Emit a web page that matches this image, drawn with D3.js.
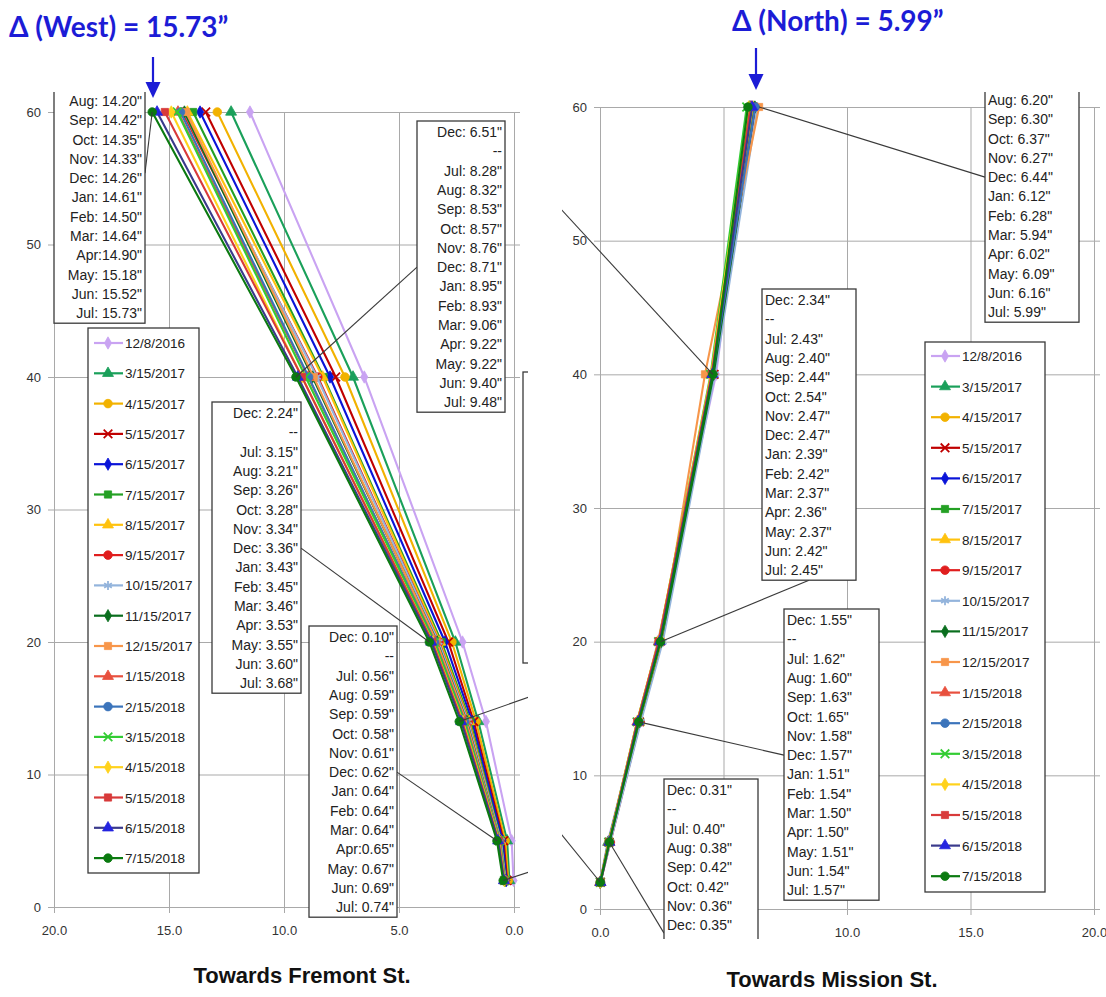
<!DOCTYPE html>
<html><head><meta charset="utf-8">
<script src="https://cdn.jsdelivr.net/npm/d3@7"></script>
<style>body{margin:0;background:#fff}svg{display:block}</style>
</head><body>
<svg id="c" width="1106" height="997"></svg>
<script>
// ---------------- DATA ----------------
const seriesNames = ["12/8/2016","3/15/2017","4/15/2017","5/15/2017","6/15/2017","7/15/2017","8/15/2017","9/15/2017","10/15/2017","11/15/2017","12/15/2017","1/15/2018","2/15/2018","3/15/2018","4/15/2018","5/15/2018","6/15/2018","7/15/2018"];
const seriesMonths = ["Dec","Mar","Apr","May","Jun","Jul","Aug","Sep","Oct","Nov","Dec","Jan","Feb","Mar","Apr","May","Jun","Jul"];
const depths = [60, 40, 20, 14, 5, 2];

// Displacement towards Fremont St. (West), inches, per series, at each depth
const west60 = [11.48,12.30,12.90,13.40,13.65,13.95,14.20,14.42,14.35,14.33,14.26,14.61,14.50,14.64,14.90,15.18,15.52,15.73];
const west40 = [6.51,7.00,7.35,7.75,8.00,8.28,8.32,8.53,8.57,8.76,8.71,8.95,8.93,9.06,9.22,9.22,9.40,9.48];
const west20 = [2.24,2.55,2.70,2.85,3.00,3.15,3.21,3.26,3.28,3.34,3.36,3.43,3.45,3.46,3.53,3.55,3.60,3.68];
const west14 = [1.22,1.55,1.65,1.75,1.82,1.90,1.95,1.98,2.00,2.05,2.07,2.12,2.14,2.16,2.22,2.25,2.30,2.38];
const west5  = [0.10,0.30,0.38,0.45,0.50,0.56,0.59,0.59,0.58,0.61,0.62,0.64,0.64,0.64,0.65,0.67,0.69,0.74];
const west2  = [0.02,0.20,0.25,0.30,0.33,0.36,0.38,0.38,0.37,0.39,0.40,0.41,0.41,0.41,0.42,0.43,0.44,0.47];

// Displacement towards Mission St. (North), inches
const north60 = [6.10,6.05,6.15,6.20,6.10,6.15,6.20,6.30,6.37,6.27,6.44,6.12,6.28,5.94,6.02,6.09,6.16,5.99];
const north40 = [4.70,4.55,4.60,4.62,4.55,4.58,4.55,4.60,4.65,4.60,4.25,4.52,4.55,4.48,4.50,4.52,4.55,4.57];
const north20 = [2.34,2.38,2.40,2.42,2.41,2.43,2.40,2.44,2.54,2.47,2.47,2.39,2.42,2.37,2.36,2.37,2.42,2.45];
const north14 = [1.55,1.58,1.60,1.60,1.61,1.62,1.60,1.63,1.65,1.58,1.57,1.51,1.54,1.50,1.50,1.51,1.54,1.57];
const north5  = [0.31,0.33,0.35,0.37,0.38,0.40,0.38,0.42,0.42,0.36,0.35,0.36,0.37,0.35,0.36,0.37,0.38,0.38];
const north2  = [0.00,0.01,0.01,0.02,0.01,0.02,0.01,0.02,0.02,0.01,0.01,0.01,0.02,0.01,0.01,0.02,0.02,0.01];

const yTicks = [0,10,20,30,40,50,60];
const xGrid = [0,5,10,15,20];
const xLabelsWest = [0,5,10,15,20];
const xLabelsNorth = [0,10,15,20];   // "5.0" is covered by an annotation box in the original
const titles = ["\u0394 (West) = 15.73\u201d", "\u0394 (North) = 5.99\u201d"];
const axisTitles = ["Towards Fremont St.", "Towards Mission St."];

// ---------------- STYLE ----------------
const lineColors   = ["#c9a3f2","#1aa05a","#f2b200","#c00000","#0a14d8","#24a024","#ffc20e","#e01e1e","#93b4dc","#0a6e1e","#f7964a","#e8503e","#3b74bb","#33cc33","#ffd21c","#d83a3a","#3a3a8c","#0b7a10"];
const markerColors = ["#c9a3f2","#1aa05a","#f2b200","#c00000","#0a14d8","#24a024","#ffc20e","#e01e1e","#93b4dc","#0a6e1e","#f7964a","#e8503e","#3b74bb","#33cc33","#ffd21c","#d83a3a","#2424e0","#0b7a10"];
const markerShapes = ["diamond","triangle","circle","times","diamond","square","triangle","circle","asterisk","diamond","square","triangle","circle","times","diamond","square","triangle","circle"];
const symMap = {diamond:[d3.symbolDiamond,44,true],triangle:[d3.symbolTriangle,52,true],circle:[d3.symbolCircle,58,true],square:[d3.symbolSquare,52,true],times:[d3.symbolTimes,50,false],asterisk:[d3.symbolAsterisk,56,false]};

const svg = d3.select("#c");
const FONT = "'Liberation Sans', Arial, sans-serif";

const charts = [
  { x: d3.scaleLinear().domain([20,0]).range([54,514]),
    y: d3.scaleLinear().domain([0,60]).range([907,112]),
    vals: [west60,west40,west20,west14,west5,west2], xLabels: xLabelsWest,
    clip: [18,92,510,853], gridL: 48, gridR: 520,
    legend: {x:88, y:328, w:111, h:545, row0:343, step:30.3},
    title: {x:9, y:37}, arrowX: 153, arrowY: [57,98],
    axTitle: {x:302, y:983} },
  { x: d3.scaleLinear().domain([0,20]).range([600,1094]),
    y: d3.scaleLinear().domain([0,60]).range([909,107]),
    vals: [north60,north40,north20,north14,north5,north2], xLabels: xLabelsNorth,
    clip: [562,92,540,847], gridL: 594, gridR: 1100,
    legend: {x:925, y:342, w:120, h:550, row0:356, step:30.6},
    title: {x:732, y:31}, arrowX: 756, arrowY: [48,90],
    axTitle: {x:832, y:987} }
];

function drawMarker(g, i, cx, cy) {
  const [type, size, filled] = symMap[markerShapes[i]];
  g.append("path")
    .attr("d", d3.symbol().type(type).size(size)())
    .attr("transform", `translate(${cx},${cy})`)
    .attr("fill", filled ? markerColors[i] : "none")
    .attr("stroke", markerColors[i])
    .attr("stroke-width", filled ? 0.8 : 1.8);
}

charts.forEach((c, ci) => {
  const g = svg.append("g");
  const clipId = "clip" + ci;
  svg.append("clipPath").attr("id", clipId).append("rect")
    .attr("x", c.clip[0]).attr("y", c.clip[1]).attr("width", c.clip[2]).attr("height", c.clip[3]);

  // gridlines + axes
  const yAxis = d3.axisLeft(c.y).tickValues(yTicks).tickFormat(d3.format("d"))
    .tickSizeInner(-(c.gridR - c.gridL)).tickSizeOuter(0).tickPadding(7);
  const ya = g.append("g").attr("transform", `translate(${c.gridL},0)`).call(yAxis);
  const yBottom = c.y(0) + 6;
  const xAxis = d3.axisBottom(c.x).tickValues(xGrid)
    .tickFormat(v => c.xLabels.includes(v) ? d3.format(".1f")(v) : "")
    .tickSizeInner(-(yBottom - c.y(60))).tickSizeOuter(0).tickPadding(13);
  const xa = g.append("g").attr("transform", `translate(0,${yBottom})`).call(xAxis);
  xa.selectAll(".tick text").filter(function(){ return this.textContent === ""; }).remove();
  [ya, xa].forEach(a => {
    a.select(".domain").remove();
    a.selectAll(".tick line").attr("stroke", "#a9a9a9").attr("stroke-width", 1);
    a.selectAll(".tick text").attr("fill", "#333").style("font-family", FONT).style("font-size", "13px");
  });

  const plot = g.append("g").attr("clip-path", `url(#${clipId})`);

  // series
  const line = d3.line().x(d => c.x(d.v)).y(d => c.y(d.d));
  seriesNames.forEach((name, i) => {
    const pts = depths.map((d, k) => ({d, v: c.vals[k][i]}));
    plot.append("path").datum(pts).attr("d", line)
      .attr("fill", "none").attr("stroke", lineColors[i]).attr("stroke-width", 2.1);
    pts.forEach(p => drawMarker(plot, i, c.x(p.v), c.y(p.d)));
  });
  c.plot = plot; c.g = g;
});

// ---------------- ANNOTATIONS ----------------
const rowStep = 19.3;
const boxRows = [0, "--", 5,6,7,8,9,10,11,12,13,14,15,16,17];
const boxes = [
  {chart:0, depth:0, x:54,  w:91, y0:43,  align:"end",   tight:[14], lead:{side:"right", row:7, dy:-5}, target:17},
  {chart:0, depth:1, x:417, w:88, y0:132, align:"end",   tight:[],   lead:{side:"left",  row:7, dy:0},  target:17},
  {chart:0, depth:2, x:212, w:89, y0:413, align:"end",   tight:[],   lead:{side:"right", row:7, dy:0},  target:17},
  {chart:0, depth:4, x:309, w:88, y0:637, align:"end",   tight:[14], lead:{side:"right", row:7, dy:0},  target:17},
  {chart:1, depth:0, x:985, w:94, y0:42,  align:"start", tight:[],   lead:{side:"left",  row:7, dy:0},  target:10},
  {chart:1, depth:2, x:762, w:94, y0:300, align:"start", tight:[],   lead:{side:"bottom"},              target:17},
  {chart:1, depth:3, x:784, w:95, y0:620, align:"start", tight:[],   lead:{side:"left",  row:7, dy:0},  target:17},
  {chart:1, depth:4, x:664, w:94, y0:790, align:"start", tight:[],   lead:{side:"left",  row:7, dy:8},  target:17}
];

boxes.forEach(b => {
  const c = charts[b.chart];
  const top = b.y0 - 11, bottom = b.y0 + (boxRows.length - 1) * rowStep + 10;
  const tx = c.x(c.vals[b.depth][b.target]), ty = c.y(depths[b.depth]);
  let lx, ly;
  if (b.lead.side === "bottom") { lx = b.x + b.w / 2; ly = bottom; }
  else { lx = b.lead.side === "left" ? b.x : b.x + b.w; ly = b.y0 + b.lead.row * rowStep + b.lead.dy; }
  c.plot.append("line").attr("x1", lx).attr("y1", ly).attr("x2", tx).attr("y2", ty)
    .attr("stroke", "#3a3a3a").attr("stroke-width", 1.1);
  c.plot.append("rect").attr("x", b.x).attr("y", top).attr("width", b.w).attr("height", bottom - top)
    .attr("fill", "#fff").attr("stroke", "#3a3a3a").attr("stroke-width", 1.3);
  const textX = b.align === "end" ? b.x + b.w - 3 : b.x + 3;
  const clipTop = c.clip[1], clipBottom = c.clip[1] + c.clip[3];
  boxRows.forEach((r, k) => {
    const cy = b.y0 + k * rowStep;
    if (cy - 6 < clipTop || cy + 6 > clipBottom) return;  // rows hidden by the plot-area edge
    const label = r === "--" ? "--" :
      seriesMonths[r] + ":" + (b.tight.includes(r) ? "" : " ") + c.vals[b.depth][r].toFixed(2) + '"';
    c.plot.append("text").attr("x", textX).attr("y", cy + 5)
      .attr("text-anchor", b.align).attr("fill", "#222")
      .style("font-family", FONT).style("font-size", "14px").text(label);
  });
});

// clipped box / leaders reaching outside the plot areas
charts[0].plot.append("rect").attr("x", 523).attr("y", 372).attr("width", 100).attr("height", 291)
  .attr("fill", "#fff").attr("stroke", "#3a3a3a").attr("stroke-width", 1.3);
const extraLeaders = [
  {chart:0, depth:3, to:[615, 667]},
  {chart:0, depth:5, to:[600, 849]},
  {chart:1, depth:1, to:[480, 121]},
  {chart:1, depth:5, to:[500, 759]}
];
extraLeaders.forEach(e => {
  const c = charts[e.chart];
  c.plot.append("line").attr("x1", c.x(c.vals[e.depth][17])).attr("y1", c.y(depths[e.depth]))
    .attr("x2", e.to[0]).attr("y2", e.to[1]).attr("stroke", "#3a3a3a").attr("stroke-width", 1.1);
});

// ---------------- LEGENDS, TITLES ----------------
charts.forEach((c, ci) => {
  const L = c.legend;
  const lg = c.g.append("g");
  lg.append("rect").attr("x", L.x).attr("y", L.y).attr("width", L.w).attr("height", L.h)
    .attr("fill", "#fff").attr("stroke", "#3a3a3a").attr("stroke-width", 1.3);
  seriesNames.forEach((name, i) => {
    const yy = L.row0 + i * L.step;
    lg.append("line").attr("x1", L.x + 6).attr("x2", L.x + 35).attr("y1", yy).attr("y2", yy)
      .attr("stroke", lineColors[i]).attr("stroke-width", 2.2);
    drawMarker(lg, i, L.x + 20, yy);
    lg.append("text").attr("x", L.x + 37).attr("y", yy + 5).attr("fill", "#222")
      .style("font-family", FONT).style("font-size", "13.5px").text(name);
  });

  svg.append("text").attr("x", c.title.x).attr("y", c.title.y)
    .attr("fill", "#1c1cd6").style("font-family", "Lato, 'Open Sans', sans-serif")
    .style("font-weight", "700").style("font-size", "28px").text(titles[ci]);
  svg.append("line").attr("x1", c.arrowX).attr("x2", c.arrowX).attr("y1", c.arrowY[0]).attr("y2", c.arrowY[1] - 12)
    .attr("stroke", "#1c1cd6").attr("stroke-width", 2.2);
  svg.append("path")
    .attr("d", `M${c.arrowX - 7.5},${c.arrowY[1] - 16}L${c.arrowX + 7.5},${c.arrowY[1] - 16}L${c.arrowX},${c.arrowY[1]}Z`)
    .attr("fill", "#1c1cd6");
  svg.append("text").attr("x", c.axTitle.x).attr("y", c.axTitle.y).attr("text-anchor", "middle")
    .attr("fill", "#111").style("font-family", FONT).style("font-weight", "700").style("font-size", "22px")
    .text(axisTitles[ci]);
});
</script>
</body></html>
